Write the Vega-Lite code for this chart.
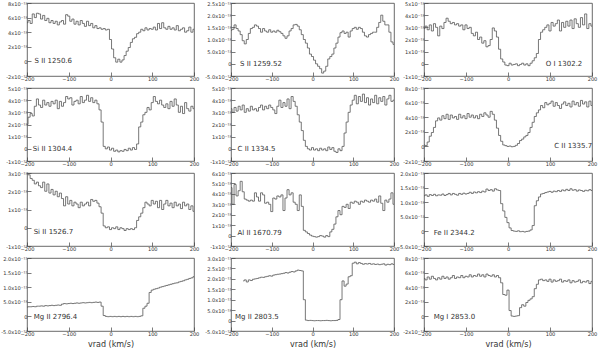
{
"$schema": "https://vega.github.io/schema/vega-lite/v6.json",
"padding": {"left": 0, "top": 0, "right": 2, "bottom": 0},
"config": {
 "view": {"stroke": "#444", "strokeWidth": 0.8},
 "axis": {"grid": false, "domain": false, "tickColor": "#444", "tickWidth": 0.7, "tickSize": -4, "labelPadding": 4, "labelOverlap": false, "labelFont": "DejaVu Sans", "labelFontSize": 5.1, "labelColor": "#333", "titleFont": "DejaVu Sans", "titleFontSize": 8, "titleFontWeight": "normal", "titleColor": "#333"},
 "axisX": {"labelFlush": false, "values": [-200, -100, 0, 100, 200], "minExtent": 8, "maxExtent": 8, "titlePadding": 1},
 "axisY": {"minExtent": 10, "labelAlign": "right"},
 "line": {"interpolate": "step", "stroke": "#555", "strokeWidth": 0.8}
},
"datasets": {
"p1": [{"v":-200,"f":5.3},{"v":-195,"f":5.6},{"v":-190,"f":5.2},{"v":-185,"f":6.5},{"v":-180,"f":6.0},{"v":-175,"f":6.6},{"v":-170,"f":6.5},{"v":-165,"f":5.8},{"v":-160,"f":6.3},{"v":-155,"f":5.6},{"v":-150,"f":5.9},{"v":-145,"f":5.3},{"v":-140,"f":5.6},{"v":-135,"f":5.2},{"v":-130,"f":5.5},{"v":-125,"f":5.0},{"v":-120,"f":5.4},{"v":-115,"f":5.6},{"v":-110,"f":5.1},{"v":-105,"f":6.4},{"v":-100,"f":6.2},{"v":-95,"f":5.5},{"v":-90,"f":5.8},{"v":-85,"f":5.1},{"v":-80,"f":5.5},{"v":-75,"f":5.0},{"v":-70,"f":5.6},{"v":-65,"f":5.2},{"v":-60,"f":4.8},{"v":-55,"f":5.5},{"v":-50,"f":4.9},{"v":-45,"f":5.2},{"v":-40,"f":4.6},{"v":-35,"f":4.9},{"v":-30,"f":4.5},{"v":-25,"f":4.6},{"v":-20,"f":4.4},{"v":-15,"f":4.5},{"v":-10,"f":4.3},{"v":-5,"f":4.4},{"v":0,"f":3.0},{"v":5,"f":1.7},{"v":10,"f":0.5},{"v":15,"f":-0.1},{"v":20,"f":0.3},{"v":25,"f":-0.1},{"v":30,"f":0.2},{"v":35,"f":0.8},{"v":40,"f":1.4},{"v":45,"f":1.9},{"v":50,"f":2.6},{"v":55,"f":3.1},{"v":60,"f":3.3},{"v":65,"f":3.8},{"v":70,"f":4.0},{"v":75,"f":4.4},{"v":80,"f":4.2},{"v":85,"f":4.6},{"v":90,"f":4.3},{"v":95,"f":4.5},{"v":100,"f":4.4},{"v":105,"f":4.7},{"v":110,"f":4.3},{"v":115,"f":5.2},{"v":120,"f":4.5},{"v":125,"f":5.3},{"v":130,"f":4.6},{"v":135,"f":4.4},{"v":140,"f":4.8},{"v":145,"f":4.4},{"v":150,"f":4.6},{"v":155,"f":4.3},{"v":160,"f":4.9},{"v":165,"f":4.2},{"v":170,"f":4.4},{"v":175,"f":4.6},{"v":180,"f":4.0},{"v":185,"f":4.2},{"v":190,"f":4.7},{"v":195,"f":4.0},{"v":200,"f":4.4}],
"p2": [{"v":-200,"f":1.38},{"v":-195,"f":1.42},{"v":-190,"f":1.6},{"v":-185,"f":1.45},{"v":-180,"f":1.35},{"v":-175,"f":1.2},{"v":-170,"f":0.95},{"v":-165,"f":0.82},{"v":-160,"f":1.0},{"v":-155,"f":1.25},{"v":-150,"f":1.45},{"v":-145,"f":1.5},{"v":-140,"f":1.6},{"v":-135,"f":1.55},{"v":-130,"f":1.45},{"v":-125,"f":1.3},{"v":-120,"f":1.45},{"v":-115,"f":1.35},{"v":-110,"f":1.3},{"v":-105,"f":1.4},{"v":-100,"f":1.3},{"v":-95,"f":1.35},{"v":-90,"f":1.3},{"v":-85,"f":1.38},{"v":-80,"f":1.32},{"v":-75,"f":1.25},{"v":-70,"f":1.15},{"v":-65,"f":1.05},{"v":-60,"f":1.15},{"v":-55,"f":1.35},{"v":-50,"f":1.45},{"v":-45,"f":1.6},{"v":-40,"f":1.62},{"v":-35,"f":1.55},{"v":-30,"f":1.4},{"v":-25,"f":1.2},{"v":-20,"f":1.0},{"v":-15,"f":0.85},{"v":-10,"f":0.65},{"v":-5,"f":0.4},{"v":0,"f":0.3},{"v":5,"f":0.15},{"v":10,"f":0.0},{"v":15,"f":-0.1},{"v":20,"f":-0.2},{"v":25,"f":-0.38},{"v":30,"f":-0.3},{"v":35,"f":-0.1},{"v":40,"f":0.2},{"v":45,"f":0.3},{"v":50,"f":0.4},{"v":55,"f":0.65},{"v":60,"f":0.85},{"v":65,"f":1.1},{"v":70,"f":1.28},{"v":75,"f":1.35},{"v":80,"f":1.25},{"v":85,"f":1.3},{"v":90,"f":1.1},{"v":95,"f":1.35},{"v":100,"f":1.45},{"v":105,"f":1.5},{"v":110,"f":1.42},{"v":115,"f":1.5},{"v":120,"f":1.45},{"v":125,"f":1.3},{"v":130,"f":1.15},{"v":135,"f":1.1},{"v":140,"f":1.2},{"v":145,"f":1.25},{"v":150,"f":1.3},{"v":155,"f":1.3},{"v":160,"f":1.5},{"v":165,"f":1.7},{"v":170,"f":2.0},{"v":175,"f":1.75},{"v":180,"f":1.6},{"v":185,"f":1.6},{"v":190,"f":1.3},{"v":195,"f":0.9},{"v":200,"f":0.8}],
"p3": [{"v":-200,"f":2.9},{"v":-195,"f":3.1},{"v":-190,"f":2.8},{"v":-185,"f":3.2},{"v":-180,"f":2.7},{"v":-175,"f":3.3},{"v":-170,"f":3.0},{"v":-165,"f":2.3},{"v":-160,"f":3.1},{"v":-155,"f":2.9},{"v":-150,"f":3.4},{"v":-145,"f":3.75},{"v":-140,"f":3.5},{"v":-135,"f":3.3},{"v":-130,"f":3.4},{"v":-125,"f":3.2},{"v":-120,"f":3.3},{"v":-115,"f":3.1},{"v":-110,"f":3.2},{"v":-105,"f":2.8},{"v":-100,"f":3.2},{"v":-95,"f":2.9},{"v":-90,"f":3.0},{"v":-85,"f":2.5},{"v":-80,"f":2.3},{"v":-75,"f":2.6},{"v":-70,"f":2.0},{"v":-65,"f":2.2},{"v":-60,"f":1.7},{"v":-55,"f":1.9},{"v":-50,"f":1.4},{"v":-45,"f":1.5},{"v":-40,"f":2.0},{"v":-35,"f":2.95},{"v":-30,"f":2.7},{"v":-25,"f":2.2},{"v":-20,"f":1.2},{"v":-15,"f":0.4},{"v":-10,"f":0.15},{"v":-5,"f":-0.1},{"v":0,"f":-0.15},{"v":5,"f":0.05},{"v":10,"f":-0.1},{"v":15,"f":-0.05},{"v":20,"f":0.0},{"v":25,"f":-0.15},{"v":30,"f":-0.05},{"v":35,"f":0.05},{"v":40,"f":-0.1},{"v":45,"f":0.0},{"v":50,"f":-0.15},{"v":55,"f":0.05},{"v":60,"f":0.25},{"v":65,"f":0.5},{"v":70,"f":0.85},{"v":75,"f":2.0},{"v":80,"f":2.6},{"v":85,"f":2.8},{"v":90,"f":3.0},{"v":95,"f":3.2},{"v":100,"f":2.7},{"v":105,"f":3.4},{"v":110,"f":3.1},{"v":115,"f":3.3},{"v":120,"f":3.6},{"v":125,"f":2.7},{"v":130,"f":3.4},{"v":135,"f":3.0},{"v":140,"f":3.5},{"v":145,"f":3.1},{"v":150,"f":3.6},{"v":155,"f":2.9},{"v":160,"f":3.7},{"v":165,"f":3.3},{"v":170,"f":3.0},{"v":175,"f":3.8},{"v":180,"f":3.2},{"v":185,"f":4.1},{"v":190,"f":2.9},{"v":195,"f":3.3},{"v":200,"f":3.1}],
"p4": [{"v":-200,"f":2.0},{"v":-195,"f":2.6},{"v":-190,"f":2.9},{"v":-185,"f":2.7},{"v":-180,"f":3.5},{"v":-175,"f":4.1},{"v":-170,"f":3.6},{"v":-165,"f":3.4},{"v":-160,"f":4.0},{"v":-155,"f":3.6},{"v":-150,"f":3.8},{"v":-145,"f":3.5},{"v":-140,"f":3.9},{"v":-135,"f":3.7},{"v":-130,"f":4.0},{"v":-125,"f":3.3},{"v":-120,"f":3.9},{"v":-115,"f":3.5},{"v":-110,"f":3.8},{"v":-105,"f":4.3},{"v":-100,"f":4.1},{"v":-95,"f":4.2},{"v":-90,"f":3.6},{"v":-85,"f":3.9},{"v":-80,"f":4.0},{"v":-75,"f":3.7},{"v":-70,"f":4.3},{"v":-65,"f":3.8},{"v":-60,"f":4.0},{"v":-55,"f":4.4},{"v":-50,"f":3.9},{"v":-45,"f":4.2},{"v":-40,"f":3.8},{"v":-35,"f":4.0},{"v":-30,"f":3.7},{"v":-25,"f":3.2},{"v":-20,"f":2.2},{"v":-15,"f":0.2},{"v":-10,"f":0.0},{"v":-5,"f":0.15},{"v":0,"f":-0.1},{"v":5,"f":0.05},{"v":10,"f":-0.2},{"v":15,"f":-0.1},{"v":20,"f":-0.25},{"v":25,"f":-0.15},{"v":30,"f":-0.2},{"v":35,"f":-0.05},{"v":40,"f":-0.15},{"v":45,"f":0.05},{"v":50,"f":-0.1},{"v":55,"f":0.1},{"v":60,"f":-0.05},{"v":65,"f":0.4},{"v":70,"f":1.8},{"v":75,"f":2.2},{"v":80,"f":2.8},{"v":85,"f":3.0},{"v":90,"f":3.4},{"v":95,"f":3.2},{"v":100,"f":3.8},{"v":105,"f":4.3},{"v":110,"f":3.9},{"v":115,"f":3.7},{"v":120,"f":4.0},{"v":125,"f":3.6},{"v":130,"f":3.4},{"v":135,"f":3.7},{"v":140,"f":3.3},{"v":145,"f":3.9},{"v":150,"f":3.5},{"v":155,"f":4.1},{"v":160,"f":3.6},{"v":165,"f":3.0},{"v":170,"f":3.5},{"v":175,"f":2.9},{"v":180,"f":3.8},{"v":185,"f":3.3},{"v":190,"f":3.1},{"v":195,"f":3.5},{"v":200,"f":3.3}],
"p5": [{"v":-200,"f":3.3},{"v":-195,"f":3.0},{"v":-190,"f":3.4},{"v":-185,"f":3.1},{"v":-180,"f":3.5},{"v":-175,"f":3.2},{"v":-170,"f":3.6},{"v":-165,"f":3.0},{"v":-160,"f":3.3},{"v":-155,"f":3.1},{"v":-150,"f":3.5},{"v":-145,"f":3.2},{"v":-140,"f":3.3},{"v":-135,"f":3.1},{"v":-130,"f":3.4},{"v":-125,"f":3.6},{"v":-120,"f":3.2},{"v":-115,"f":3.5},{"v":-110,"f":3.3},{"v":-105,"f":3.6},{"v":-100,"f":3.4},{"v":-95,"f":3.2},{"v":-90,"f":2.9},{"v":-85,"f":3.5},{"v":-80,"f":4.0},{"v":-75,"f":3.4},{"v":-70,"f":3.8},{"v":-65,"f":3.5},{"v":-60,"f":4.1},{"v":-55,"f":3.3},{"v":-50,"f":4.3},{"v":-45,"f":3.9},{"v":-40,"f":3.5},{"v":-35,"f":2.8},{"v":-30,"f":2.2},{"v":-25,"f":1.5},{"v":-20,"f":0.7},{"v":-15,"f":0.2},{"v":-10,"f":0.0},{"v":-5,"f":-0.1},{"v":0,"f":0.1},{"v":5,"f":-0.1},{"v":10,"f":0.0},{"v":15,"f":-0.15},{"v":20,"f":0.05},{"v":25,"f":-0.1},{"v":30,"f":0.0},{"v":35,"f":-0.15},{"v":40,"f":0.15},{"v":45,"f":-0.05},{"v":50,"f":0.1},{"v":55,"f":-0.2},{"v":60,"f":-0.3},{"v":65,"f":0.0},{"v":70,"f":-0.15},{"v":75,"f":0.2},{"v":80,"f":1.3},{"v":85,"f":2.2},{"v":90,"f":3.0},{"v":95,"f":3.6},{"v":100,"f":4.0},{"v":105,"f":4.4},{"v":110,"f":3.7},{"v":115,"f":4.3},{"v":120,"f":3.9},{"v":125,"f":4.5},{"v":130,"f":3.8},{"v":135,"f":4.2},{"v":140,"f":3.6},{"v":145,"f":4.1},{"v":150,"f":3.8},{"v":155,"f":4.4},{"v":160,"f":3.7},{"v":165,"f":4.2},{"v":170,"f":3.9},{"v":175,"f":4.3},{"v":180,"f":3.6},{"v":185,"f":4.1},{"v":190,"f":4.4},{"v":195,"f":3.9},{"v":200,"f":4.0}],
"p6": [{"v":-200,"f":0.2},{"v":-195,"f":0.1},{"v":-190,"f":0.6},{"v":-185,"f":1.4},{"v":-180,"f":1.9},{"v":-175,"f":2.6},{"v":-170,"f":3.5},{"v":-165,"f":3.9},{"v":-160,"f":3.6},{"v":-155,"f":4.2},{"v":-150,"f":3.8},{"v":-145,"f":4.4},{"v":-140,"f":3.7},{"v":-135,"f":4.3},{"v":-130,"f":3.9},{"v":-125,"f":4.1},{"v":-120,"f":3.7},{"v":-115,"f":4.4},{"v":-110,"f":3.9},{"v":-105,"f":4.2},{"v":-100,"f":3.8},{"v":-95,"f":4.5},{"v":-90,"f":4.0},{"v":-85,"f":4.3},{"v":-80,"f":3.9},{"v":-75,"f":4.2},{"v":-70,"f":3.8},{"v":-65,"f":4.4},{"v":-60,"f":4.1},{"v":-55,"f":4.6},{"v":-50,"f":4.3},{"v":-45,"f":4.0},{"v":-40,"f":4.8},{"v":-35,"f":4.4},{"v":-30,"f":3.6},{"v":-25,"f":2.5},{"v":-20,"f":1.5},{"v":-15,"f":0.7},{"v":-10,"f":0.2},{"v":-5,"f":0.1},{"v":0,"f":0.0},{"v":5,"f":0.05},{"v":10,"f":-0.05},{"v":15,"f":0.0},{"v":20,"f":0.15},{"v":25,"f":0.4},{"v":30,"f":0.8},{"v":35,"f":1.0},{"v":40,"f":1.3},{"v":45,"f":1.5},{"v":50,"f":1.9},{"v":55,"f":2.6},{"v":60,"f":3.3},{"v":65,"f":4.1},{"v":70,"f":4.6},{"v":75,"f":5.0},{"v":80,"f":5.6},{"v":85,"f":5.3},{"v":90,"f":6.0},{"v":95,"f":5.7},{"v":100,"f":5.9},{"v":105,"f":6.2},{"v":110,"f":5.5},{"v":115,"f":6.0},{"v":120,"f":5.6},{"v":125,"f":5.2},{"v":130,"f":5.8},{"v":135,"f":6.1},{"v":140,"f":5.6},{"v":145,"f":5.9},{"v":150,"f":5.4},{"v":155,"f":6.2},{"v":160,"f":5.7},{"v":165,"f":6.0},{"v":170,"f":5.5},{"v":175,"f":6.3},{"v":180,"f":5.8},{"v":185,"f":6.1},{"v":190,"f":5.4},{"v":195,"f":6.2},{"v":200,"f":5.6}],
"p7": [{"v":-200,"f":3.0},{"v":-195,"f":2.9},{"v":-190,"f":2.7},{"v":-185,"f":2.6},{"v":-180,"f":2.4},{"v":-175,"f":2.5},{"v":-170,"f":2.3},{"v":-165,"f":2.2},{"v":-160,"f":2.5},{"v":-155,"f":2.0},{"v":-150,"f":2.4},{"v":-145,"f":1.9},{"v":-140,"f":2.1},{"v":-135,"f":1.8},{"v":-130,"f":2.0},{"v":-125,"f":1.7},{"v":-120,"f":1.9},{"v":-115,"f":1.6},{"v":-110,"f":1.2},{"v":-105,"f":1.7},{"v":-100,"f":1.3},{"v":-95,"f":1.5},{"v":-90,"f":1.2},{"v":-85,"f":1.4},{"v":-80,"f":1.3},{"v":-75,"f":1.1},{"v":-70,"f":1.4},{"v":-65,"f":1.2},{"v":-60,"f":1.3},{"v":-55,"f":1.4},{"v":-50,"f":1.2},{"v":-45,"f":1.55},{"v":-40,"f":1.45},{"v":-35,"f":1.5},{"v":-30,"f":1.35},{"v":-25,"f":1.15},{"v":-20,"f":0.8},{"v":-15,"f":0.1},{"v":-10,"f":0.0},{"v":-5,"f":0.05},{"v":0,"f":-0.1},{"v":5,"f":0.0},{"v":10,"f":-0.05},{"v":15,"f":0.05},{"v":20,"f":-0.1},{"v":25,"f":0.0},{"v":30,"f":-0.05},{"v":35,"f":-0.15},{"v":40,"f":-0.05},{"v":45,"f":-0.1},{"v":50,"f":-0.05},{"v":55,"f":-0.1},{"v":60,"f":0.0},{"v":65,"f":0.4},{"v":70,"f":0.6},{"v":75,"f":0.8},{"v":80,"f":1.1},{"v":85,"f":1.4},{"v":90,"f":1.3},{"v":95,"f":1.2},{"v":100,"f":1.5},{"v":105,"f":1.3},{"v":110,"f":1.45},{"v":115,"f":1.1},{"v":120,"f":1.5},{"v":125,"f":1.0},{"v":130,"f":1.3},{"v":135,"f":1.5},{"v":140,"f":1.2},{"v":145,"f":1.35},{"v":150,"f":1.1},{"v":155,"f":1.4},{"v":160,"f":1.2},{"v":165,"f":1.3},{"v":170,"f":1.05},{"v":175,"f":1.4},{"v":180,"f":1.2},{"v":185,"f":1.3},{"v":190,"f":1.0},{"v":195,"f":1.2},{"v":200,"f":0.9}],
"p8": [{"v":-200,"f":4.6},{"v":-195,"f":3.0},{"v":-190,"f":4.9},{"v":-185,"f":3.8},{"v":-180,"f":4.3},{"v":-175,"f":5.2},{"v":-170,"f":4.2},{"v":-165,"f":3.5},{"v":-160,"f":3.4},{"v":-155,"f":3.3},{"v":-150,"f":3.4},{"v":-145,"f":3.3},{"v":-140,"f":4.1},{"v":-135,"f":3.7},{"v":-130,"f":3.3},{"v":-125,"f":4.1},{"v":-120,"f":3.9},{"v":-115,"f":3.1},{"v":-110,"f":3.2},{"v":-105,"f":3.0},{"v":-100,"f":2.3},{"v":-95,"f":3.6},{"v":-90,"f":3.5},{"v":-85,"f":3.8},{"v":-80,"f":3.7},{"v":-75,"f":3.9},{"v":-70,"f":2.4},{"v":-65,"f":3.6},{"v":-60,"f":4.4},{"v":-55,"f":3.9},{"v":-50,"f":4.1},{"v":-45,"f":3.2},{"v":-40,"f":3.0},{"v":-35,"f":2.4},{"v":-30,"f":3.9},{"v":-25,"f":2.8},{"v":-20,"f":0.5},{"v":-15,"f":0.35},{"v":-10,"f":0.2},{"v":-5,"f":0.05},{"v":0,"f":-0.05},{"v":5,"f":-0.1},{"v":10,"f":-0.15},{"v":15,"f":-0.1},{"v":20,"f":0.0},{"v":25,"f":-0.05},{"v":30,"f":-0.15},{"v":35,"f":0.0},{"v":40,"f":-0.1},{"v":45,"f":0.35},{"v":50,"f":0.6},{"v":55,"f":1.1},{"v":60,"f":1.8},{"v":65,"f":2.4},{"v":70,"f":2.0},{"v":75,"f":2.8},{"v":80,"f":2.7},{"v":85,"f":3.0},{"v":90,"f":2.6},{"v":95,"f":3.2},{"v":100,"f":3.1},{"v":105,"f":3.3},{"v":110,"f":3.2},{"v":115,"f":3.0},{"v":120,"f":3.3},{"v":125,"f":3.2},{"v":130,"f":3.4},{"v":135,"f":3.3},{"v":140,"f":3.2},{"v":145,"f":3.4},{"v":150,"f":3.3},{"v":155,"f":3.5},{"v":160,"f":3.2},{"v":165,"f":3.8},{"v":170,"f":3.1},{"v":175,"f":2.4},{"v":180,"f":3.4},{"v":185,"f":3.2},{"v":190,"f":3.5},{"v":195,"f":4.1},{"v":200,"f":3.0}],
"p9": [{"v":-200,"f":1.22},{"v":-195,"f":1.25},{"v":-190,"f":1.2},{"v":-185,"f":1.26},{"v":-180,"f":1.23},{"v":-175,"f":1.27},{"v":-170,"f":1.22},{"v":-165,"f":1.25},{"v":-160,"f":1.24},{"v":-155,"f":1.28},{"v":-150,"f":1.23},{"v":-145,"f":1.26},{"v":-140,"f":1.3},{"v":-135,"f":1.25},{"v":-130,"f":1.3},{"v":-125,"f":1.27},{"v":-120,"f":1.24},{"v":-115,"f":1.3},{"v":-110,"f":1.27},{"v":-105,"f":1.31},{"v":-100,"f":1.28},{"v":-95,"f":1.3},{"v":-90,"f":1.34},{"v":-85,"f":1.3},{"v":-80,"f":1.35},{"v":-75,"f":1.32},{"v":-70,"f":1.36},{"v":-65,"f":1.33},{"v":-60,"f":1.38},{"v":-55,"f":1.35},{"v":-50,"f":1.45},{"v":-45,"f":1.4},{"v":-40,"f":1.43},{"v":-35,"f":1.38},{"v":-30,"f":1.46},{"v":-25,"f":1.42},{"v":-20,"f":1.4},{"v":-15,"f":0.95},{"v":-10,"f":0.7},{"v":-5,"f":0.48},{"v":0,"f":0.3},{"v":5,"f":0.12},{"v":10,"f":0.03},{"v":15,"f":0.01},{"v":20,"f":0.0},{"v":25,"f":0.02},{"v":30,"f":-0.01},{"v":35,"f":0.0},{"v":40,"f":-0.02},{"v":45,"f":0.0},{"v":50,"f":0.01},{"v":55,"f":0.05},{"v":60,"f":0.2},{"v":65,"f":0.88},{"v":70,"f":1.05},{"v":75,"f":1.18},{"v":80,"f":1.28},{"v":85,"f":1.3},{"v":90,"f":1.33},{"v":95,"f":1.35},{"v":100,"f":1.37},{"v":105,"f":1.34},{"v":110,"f":1.38},{"v":115,"f":1.36},{"v":120,"f":1.4},{"v":125,"f":1.37},{"v":130,"f":1.42},{"v":135,"f":1.39},{"v":140,"f":1.44},{"v":145,"f":1.4},{"v":150,"f":1.46},{"v":155,"f":1.41},{"v":160,"f":1.43},{"v":165,"f":1.38},{"v":170,"f":1.42},{"v":175,"f":1.4},{"v":180,"f":1.37},{"v":185,"f":1.41},{"v":190,"f":1.39},{"v":195,"f":1.43},{"v":200,"f":1.4}],
"p10": [{"v":-200,"f":0.32},{"v":-195,"f":0.33},{"v":-190,"f":0.33},{"v":-185,"f":0.34},{"v":-180,"f":0.33},{"v":-175,"f":0.35},{"v":-170,"f":0.35},{"v":-165,"f":0.36},{"v":-160,"f":0.35},{"v":-155,"f":0.37},{"v":-150,"f":0.36},{"v":-145,"f":0.37},{"v":-140,"f":0.38},{"v":-135,"f":0.37},{"v":-130,"f":0.38},{"v":-125,"f":0.39},{"v":-120,"f":0.38},{"v":-115,"f":0.42},{"v":-110,"f":0.44},{"v":-105,"f":0.43},{"v":-100,"f":0.44},{"v":-95,"f":0.45},{"v":-90,"f":0.44},{"v":-85,"f":0.45},{"v":-80,"f":0.46},{"v":-75,"f":0.45},{"v":-70,"f":0.46},{"v":-65,"f":0.47},{"v":-60,"f":0.46},{"v":-55,"f":0.47},{"v":-50,"f":0.48},{"v":-45,"f":0.47},{"v":-40,"f":0.48},{"v":-35,"f":0.49},{"v":-30,"f":0.48},{"v":-25,"f":0.49},{"v":-20,"f":0.35},{"v":-15,"f":0.03},{"v":-10,"f":0.0},{"v":-5,"f":-0.01},{"v":0,"f":0.0},{"v":5,"f":-0.01},{"v":10,"f":0.0},{"v":15,"f":-0.01},{"v":20,"f":0.0},{"v":25,"f":-0.01},{"v":30,"f":0.0},{"v":35,"f":-0.01},{"v":40,"f":0.0},{"v":45,"f":-0.01},{"v":50,"f":0.0},{"v":55,"f":-0.01},{"v":60,"f":0.0},{"v":65,"f":-0.01},{"v":70,"f":0.0},{"v":75,"f":0.02},{"v":80,"f":0.28},{"v":85,"f":0.35},{"v":90,"f":0.45},{"v":95,"f":0.82},{"v":100,"f":0.9},{"v":105,"f":0.93},{"v":110,"f":0.95},{"v":115,"f":0.97},{"v":120,"f":1.0},{"v":125,"f":1.02},{"v":130,"f":1.04},{"v":135,"f":1.06},{"v":140,"f":1.08},{"v":145,"f":1.1},{"v":150,"f":1.12},{"v":155,"f":1.14},{"v":160,"f":1.15},{"v":165,"f":1.18},{"v":170,"f":1.2},{"v":175,"f":1.22},{"v":180,"f":1.25},{"v":185,"f":1.27},{"v":190,"f":1.3},{"v":195,"f":1.32},{"v":200,"f":1.36}],
"p11": [{"v":-170,"f":1.9},{"v":-165,"f":1.95},{"v":-160,"f":1.85},{"v":-155,"f":1.95},{"v":-150,"f":1.92},{"v":-145,"f":1.98},{"v":-140,"f":2.0},{"v":-135,"f":2.02},{"v":-130,"f":2.05},{"v":-125,"f":2.08},{"v":-120,"f":2.07},{"v":-115,"f":2.1},{"v":-110,"f":2.12},{"v":-105,"f":2.15},{"v":-100,"f":2.13},{"v":-95,"f":2.18},{"v":-90,"f":2.2},{"v":-85,"f":2.22},{"v":-80,"f":2.23},{"v":-75,"f":2.25},{"v":-70,"f":2.27},{"v":-65,"f":2.3},{"v":-60,"f":2.28},{"v":-55,"f":2.32},{"v":-50,"f":2.35},{"v":-45,"f":2.33},{"v":-40,"f":2.38},{"v":-35,"f":2.42},{"v":-30,"f":2.4},{"v":-25,"f":2.38},{"v":-20,"f":1.0},{"v":-15,"f":0.02},{"v":-10,"f":0.0},{"v":-5,"f":0.01},{"v":0,"f":0.0},{"v":5,"f":-0.01},{"v":10,"f":0.0},{"v":15,"f":0.0},{"v":20,"f":-0.01},{"v":25,"f":0.0},{"v":30,"f":0.0},{"v":35,"f":0.01},{"v":40,"f":0.0},{"v":45,"f":-0.01},{"v":50,"f":0.0},{"v":55,"f":0.0},{"v":60,"f":0.01},{"v":65,"f":0.05},{"v":70,"f":1.0},{"v":75,"f":1.9},{"v":80,"f":1.65},{"v":85,"f":1.75},{"v":90,"f":2.1},{"v":95,"f":2.15},{"v":100,"f":2.75},{"v":105,"f":2.8},{"v":110,"f":2.72},{"v":115,"f":2.78},{"v":120,"f":2.74},{"v":125,"f":2.7},{"v":130,"f":2.73},{"v":135,"f":2.71},{"v":140,"f":2.74},{"v":145,"f":2.7},{"v":150,"f":2.72},{"v":155,"f":2.69},{"v":160,"f":2.71},{"v":165,"f":2.68},{"v":170,"f":2.7},{"v":175,"f":2.72},{"v":180,"f":2.66},{"v":185,"f":2.7},{"v":190,"f":2.68},{"v":195,"f":2.72},{"v":200,"f":2.69}],
"p12": [{"v":-200,"f":5.2},{"v":-195,"f":5.0},{"v":-190,"f":5.4},{"v":-185,"f":5.1},{"v":-180,"f":5.5},{"v":-175,"f":5.2},{"v":-170,"f":5.0},{"v":-165,"f":5.3},{"v":-160,"f":5.1},{"v":-155,"f":5.5},{"v":-150,"f":5.2},{"v":-145,"f":5.4},{"v":-140,"f":5.1},{"v":-135,"f":5.3},{"v":-130,"f":5.6},{"v":-125,"f":5.2},{"v":-120,"f":5.4},{"v":-115,"f":5.3},{"v":-110,"f":5.6},{"v":-105,"f":5.3},{"v":-100,"f":5.5},{"v":-95,"f":5.4},{"v":-90,"f":5.7},{"v":-85,"f":5.4},{"v":-80,"f":5.6},{"v":-75,"f":5.5},{"v":-70,"f":5.8},{"v":-65,"f":5.5},{"v":-60,"f":5.7},{"v":-55,"f":5.4},{"v":-50,"f":5.8},{"v":-45,"f":5.6},{"v":-40,"f":5.5},{"v":-35,"f":5.7},{"v":-30,"f":5.4},{"v":-25,"f":5.6},{"v":-20,"f":5.3},{"v":-15,"f":4.6},{"v":-10,"f":3.0},{"v":-5,"f":2.9},{"v":0,"f":3.6},{"v":5,"f":0.8},{"v":10,"f":0.05},{"v":15,"f":0.0},{"v":20,"f":0.05},{"v":25,"f":0.1},{"v":30,"f":1.2},{"v":35,"f":1.6},{"v":40,"f":1.4},{"v":45,"f":1.9},{"v":50,"f":2.2},{"v":55,"f":2.4},{"v":60,"f":2.7},{"v":65,"f":3.8},{"v":70,"f":4.4},{"v":75,"f":5.0},{"v":80,"f":5.1},{"v":85,"f":4.9},{"v":90,"f":5.0},{"v":95,"f":4.8},{"v":100,"f":5.1},{"v":105,"f":4.7},{"v":110,"f":5.0},{"v":115,"f":4.8},{"v":120,"f":4.9},{"v":125,"f":5.1},{"v":130,"f":4.7},{"v":135,"f":4.9},{"v":140,"f":4.8},{"v":145,"f":5.0},{"v":150,"f":4.6},{"v":155,"f":4.9},{"v":160,"f":4.7},{"v":165,"f":4.8},{"v":170,"f":5.0},{"v":175,"f":4.6},{"v":180,"f":4.8},{"v":185,"f":4.7},{"v":190,"f":4.9},{"v":195,"f":4.5},{"v":200,"f":4.8}]
},
"vconcat": [
 {"bounds": "flush", "spacing": 37, "hconcat": [
  {"width": 167, "height": 73, "resolve": {"axis": {"x": "independent", "y": "independent"}}, "layer": [
   {"data": {"name": "p1"}, "mark": "line", "encoding": {"x": {"field": "v", "type": "quantitative", "scale": {"domain": [-200, 200], "nice": false}, "axis": {"title": null}}, "y": {"field": "f", "type": "quantitative", "scale": {"domain": [-2, 8], "nice": false, "zero": false}, "axis": {"title": null, "values": [-2, 0, 2, 4, 6, 8], "labelExpr": "datum.value==0?'0':datum.value+'x10⁻¹²'"}}}},
   {"data": {"values": [{"label": "S II 1250.6"}]}, "mark": {"type": "text", "font": "DejaVu Sans", "fontSize": 7, "color": "#333", "align": "left", "baseline": "middle"}, "encoding": {"x": {"datum": -182, "axis": null}, "y": {"datum": 0, "axis": null}, "text": {"field": "label"}}}]},
  {"bounds": "flush", "spacing": 30, "hconcat": [
   {"width": 163, "height": 73, "resolve": {"axis": {"x": "independent", "y": "independent"}}, "layer": [
    {"data": {"name": "p2"}, "mark": "line", "encoding": {"x": {"field": "v", "type": "quantitative", "scale": {"domain": [-200, 200], "nice": false}, "axis": {"title": null}}, "y": {"field": "f", "type": "quantitative", "scale": {"domain": [-0.5, 2.5], "nice": false, "zero": false}, "axis": {"title": null, "values": [-0.5, 0, 0.5, 1, 1.5, 2, 2.5], "labelExpr": "datum.value==0?'0':abs(datum.value)<1?(datum.value<0?'-':'')+format(abs(datum.value)*10,'.1f')+'x10⁻¹³':format(datum.value,'.1f')+'x10⁻¹²'"}}}},
    {"data": {"values": [{"label": "S II 1259.52"}]}, "mark": {"type": "text", "font": "DejaVu Sans", "fontSize": 7, "color": "#333", "align": "left", "baseline": "middle"}, "encoding": {"x": {"datum": -178, "axis": null}, "y": {"datum": 0, "axis": null}, "text": {"field": "label"}}}]},
   {"width": 168, "height": 73, "resolve": {"axis": {"x": "independent", "y": "independent"}}, "layer": [
    {"data": {"name": "p3"}, "mark": "line", "encoding": {"x": {"field": "v", "type": "quantitative", "scale": {"domain": [-200, 200], "nice": false}, "axis": {"title": null}}, "y": {"field": "f", "type": "quantitative", "scale": {"domain": [-1, 5], "nice": false, "zero": false}, "axis": {"title": null, "values": [-1, 0, 1, 2, 3, 4, 5], "labelExpr": "datum.value==0?'0':datum.value+'x10⁻¹²'"}}}},
    {"data": {"values": [{"label": "O I 1302.2"}]}, "mark": {"type": "text", "font": "DejaVu Sans", "fontSize": 7, "color": "#333", "align": "left", "baseline": "middle"}, "encoding": {"x": {"datum": 90, "axis": null}, "y": {"datum": 0, "axis": null}, "text": {"field": "label"}}}]}
  ]}
 ]},
 {"bounds": "flush", "spacing": 37, "hconcat": [
  {"width": 167, "height": 73, "resolve": {"axis": {"x": "independent", "y": "independent"}}, "layer": [
   {"data": {"name": "p4"}, "mark": "line", "encoding": {"x": {"field": "v", "type": "quantitative", "scale": {"domain": [-200, 200], "nice": false}, "axis": {"title": null}}, "y": {"field": "f", "type": "quantitative", "scale": {"domain": [-1, 5], "nice": false, "zero": false}, "axis": {"title": null, "values": [-1, 0, 1, 2, 3, 4, 5], "labelExpr": "datum.value==0?'0':datum.value+'x10⁻¹²'"}}}},
   {"data": {"values": [{"label": "Si II 1304.4"}]}, "mark": {"type": "text", "font": "DejaVu Sans", "fontSize": 7, "color": "#333", "align": "left", "baseline": "middle"}, "encoding": {"x": {"datum": -186, "axis": null}, "y": {"datum": 0, "axis": null}, "text": {"field": "label"}}}]},
  {"bounds": "flush", "spacing": 30, "hconcat": [
   {"width": 163, "height": 73, "resolve": {"axis": {"x": "independent", "y": "independent"}}, "layer": [
    {"data": {"name": "p5"}, "mark": "line", "encoding": {"x": {"field": "v", "type": "quantitative", "scale": {"domain": [-200, 200], "nice": false}, "axis": {"title": null}}, "y": {"field": "f", "type": "quantitative", "scale": {"domain": [-1, 5], "nice": false, "zero": false}, "axis": {"title": null, "values": [-1, 0, 1, 2, 3, 4, 5], "labelExpr": "datum.value==0?'0':datum.value+'x10⁻¹²'"}}}},
    {"data": {"values": [{"label": "C II 1334.5"}]}, "mark": {"type": "text", "font": "DejaVu Sans", "fontSize": 7, "color": "#333", "align": "left", "baseline": "middle"}, "encoding": {"x": {"datum": -184, "axis": null}, "y": {"datum": 0, "axis": null}, "text": {"field": "label"}}}]},
   {"width": 168, "height": 73, "resolve": {"axis": {"x": "independent", "y": "independent"}}, "layer": [
    {"data": {"name": "p6"}, "mark": "line", "encoding": {"x": {"field": "v", "type": "quantitative", "scale": {"domain": [-200, 200], "nice": false}, "axis": {"title": null}}, "y": {"field": "f", "type": "quantitative", "scale": {"domain": [-2, 8], "nice": false, "zero": false}, "axis": {"title": null, "values": [-2, 0, 2, 4, 6, 8], "labelExpr": "datum.value==0?'0':datum.value+'x10⁻¹²'"}}}},
    {"data": {"values": [{"label": "C II 1335.7"}]}, "mark": {"type": "text", "font": "DejaVu Sans", "fontSize": 7, "color": "#333", "align": "left", "baseline": "middle"}, "encoding": {"x": {"datum": 110, "axis": null}, "y": {"datum": 0, "axis": null}, "text": {"field": "label"}}}]}
  ]}
 ]},
 {"bounds": "flush", "spacing": 37, "hconcat": [
  {"width": 167, "height": 73, "resolve": {"axis": {"x": "independent", "y": "independent"}}, "layer": [
   {"data": {"name": "p7"}, "mark": "line", "encoding": {"x": {"field": "v", "type": "quantitative", "scale": {"domain": [-200, 200], "nice": false}, "axis": {"title": null}}, "y": {"field": "f", "type": "quantitative", "scale": {"domain": [-1, 3], "nice": false, "zero": false}, "axis": {"title": null, "values": [-1, 0, 1, 2, 3], "labelExpr": "datum.value==0?'0':datum.value+'x10⁻¹²'"}}}},
   {"data": {"values": [{"label": "Si II 1526.7"}]}, "mark": {"type": "text", "font": "DejaVu Sans", "fontSize": 7, "color": "#333", "align": "left", "baseline": "middle"}, "encoding": {"x": {"datum": -184, "axis": null}, "y": {"datum": -0.25, "axis": null}, "text": {"field": "label"}}}]},
  {"bounds": "flush", "spacing": 30, "hconcat": [
   {"width": 163, "height": 73, "resolve": {"axis": {"x": "independent", "y": "independent"}}, "layer": [
    {"data": {"name": "p8"}, "mark": "line", "encoding": {"x": {"field": "v", "type": "quantitative", "scale": {"domain": [-200, 200], "nice": false}, "axis": {"title": null}}, "y": {"field": "f", "type": "quantitative", "scale": {"domain": [-1, 6], "nice": false, "zero": false}, "axis": {"title": null, "values": [-1, 0, 1, 2, 3, 4, 5, 6], "labelExpr": "datum.value==0?'0':datum.value+'x10⁻¹²'"}}}},
    {"data": {"values": [{"label": "Al II 1670.79"}]}, "mark": {"type": "text", "font": "DejaVu Sans", "fontSize": 7, "color": "#333", "align": "left", "baseline": "middle"}, "encoding": {"x": {"datum": -184, "axis": null}, "y": {"datum": 0.2, "axis": null}, "text": {"field": "label"}}}]},
   {"width": 168, "height": 73, "resolve": {"axis": {"x": "independent", "y": "independent"}}, "layer": [
    {"data": {"name": "p9"}, "mark": "line", "encoding": {"x": {"field": "v", "type": "quantitative", "scale": {"domain": [-200, 200], "nice": false}, "axis": {"title": null}}, "y": {"field": "f", "type": "quantitative", "scale": {"domain": [-0.5, 2], "nice": false, "zero": false}, "axis": {"title": null, "values": [-0.5, 0, 0.5, 1, 1.5, 2], "labelExpr": "datum.value==0?'0':abs(datum.value)<1?(datum.value<0?'-':'')+format(abs(datum.value)*10,'.1f')+'x10⁻¹³':format(datum.value,'.1f')+'x10⁻¹²'"}}}},
    {"data": {"values": [{"label": "Fe II 2344.2"}]}, "mark": {"type": "text", "font": "DejaVu Sans", "fontSize": 7, "color": "#333", "align": "left", "baseline": "middle"}, "encoding": {"x": {"datum": -177, "axis": null}, "y": {"datum": -0.05, "axis": null}, "text": {"field": "label"}}}]}
  ]}
 ]},
 {"bounds": "flush", "spacing": 37, "hconcat": [
  {"width": 167, "height": 73, "resolve": {"axis": {"x": "independent", "y": "independent"}}, "layer": [
   {"data": {"name": "p10"}, "mark": "line", "encoding": {"x": {"field": "v", "type": "quantitative", "scale": {"domain": [-200, 200], "nice": false}, "axis": {"title": "vrad (km/s)"}}, "y": {"field": "f", "type": "quantitative", "scale": {"domain": [-0.5, 2], "nice": false, "zero": false}, "axis": {"title": null, "values": [-0.5, 0, 0.5, 1, 1.5, 2], "labelExpr": "datum.value==0?'0':abs(datum.value)<1?(datum.value<0?'-':'')+format(abs(datum.value)*10,'.1f')+'x10⁻¹²':format(datum.value,'.1f')+'x10⁻¹¹'"}}}},
   {"data": {"values": [{"label": "Mg II 2796.4"}]}, "mark": {"type": "text", "font": "DejaVu Sans", "fontSize": 7, "color": "#333", "align": "left", "baseline": "middle"}, "encoding": {"x": {"datum": -184, "axis": null}, "y": {"datum": -0.02, "axis": null}, "text": {"field": "label"}}}]},
  {"bounds": "flush", "spacing": 30, "hconcat": [
   {"width": 163, "height": 73, "resolve": {"axis": {"x": "independent", "y": "independent"}}, "layer": [
    {"data": {"name": "p11"}, "mark": "line", "encoding": {"x": {"field": "v", "type": "quantitative", "scale": {"domain": [-200, 200], "nice": false}, "axis": {"title": "vrad (km/s)"}}, "y": {"field": "f", "type": "quantitative", "scale": {"domain": [-0.5, 3], "nice": false, "zero": false}, "axis": {"title": null, "values": [-0.5, 0, 0.5, 1, 1.5, 2, 2.5, 3], "labelExpr": "datum.value==0?'0':abs(datum.value)<1?(datum.value<0?'-':'')+format(abs(datum.value)*10,'.1f')+'x10⁻¹²':format(datum.value,'.1f')+'x10⁻¹¹'"}}}},
    {"data": {"values": [{"label": "Mg II 2803.5"}]}, "mark": {"type": "text", "font": "DejaVu Sans", "fontSize": 7, "color": "#333", "align": "left", "baseline": "middle"}, "encoding": {"x": {"datum": -190, "axis": null}, "y": {"datum": 0.16, "axis": null}, "text": {"field": "label"}}}]},
   {"width": 168, "height": 73, "resolve": {"axis": {"x": "independent", "y": "independent"}}, "layer": [
    {"data": {"name": "p12"}, "mark": "line", "encoding": {"x": {"field": "v", "type": "quantitative", "scale": {"domain": [-200, 200], "nice": false}, "axis": {"title": "vrad (km/s)"}}, "y": {"field": "f", "type": "quantitative", "scale": {"domain": [-2, 8], "nice": false, "zero": false}, "axis": {"title": null, "values": [-2, 0, 2, 4, 6, 8], "labelExpr": "datum.value==0?'0':datum.value+'x10⁻¹²'"}}}},
    {"data": {"values": [{"label": "Mg I 2853.0"}]}, "mark": {"type": "text", "font": "DejaVu Sans", "fontSize": 7, "color": "#333", "align": "left", "baseline": "middle"}, "encoding": {"x": {"datum": -177, "axis": null}, "y": {"datum": -0.1, "axis": null}, "text": {"field": "label"}}}]}
  ]}
 ]}
],
"spacing": 0
}
